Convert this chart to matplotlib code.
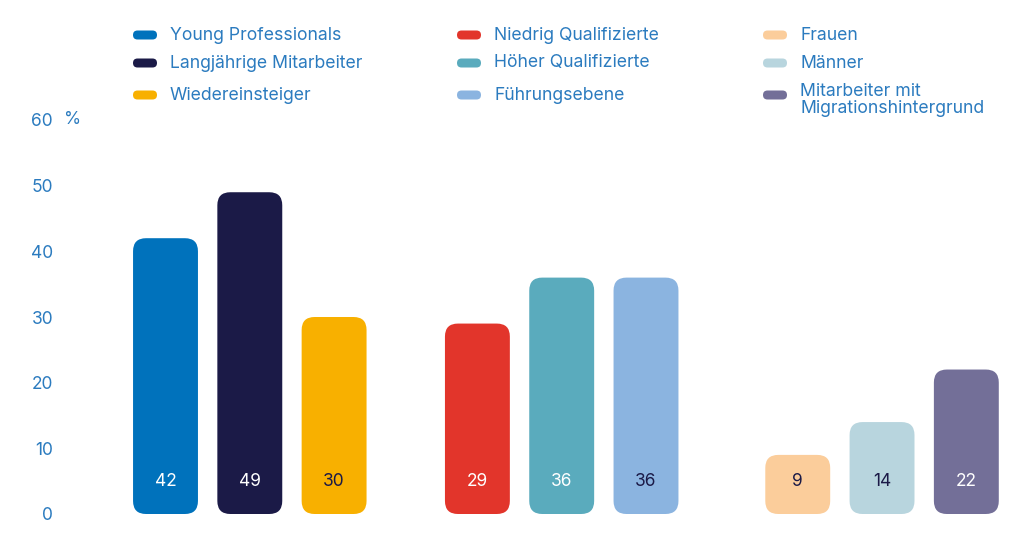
import matplotlib
matplotlib.use("Agg")
import matplotlib.pyplot as plt
from matplotlib.patches import FancyBboxPatch

plt.rcParams['font.family'] = ['Inter', 'DejaVu Sans']

# data
categories = ['Young Professionals', 'Langjährige Mitarbeiter', 'Wiedereinsteiger',
              'Niedrig Qualifizierte', 'Höher Qualifizierte', 'Führungsebene',
              'Frauen', 'Männer', 'Mitarbeiter mit\nMigrationshintergrund']
values = [42, 49, 30, 29, 36, 36, 9, 14, 22]
groups = [0, 0, 0, 1, 1, 1, 2, 2, 2]
colors = ['#0072bc', '#1b1a47', '#f8b000',
          '#e2352b', '#5aabbd', '#8bb4e0',
          '#fbcd9b', '#b8d5de', '#736f98']
label_colors = ['white', 'white', '#1b1a47',
                'white', 'white', '#1b1a47',
                '#1b1a47', '#1b1a47', 'white']
yticks = [0, 10, 20, 30, 40, 50, 60]

text_blue = '#2b7bbf'
group_start = [0, 3.7, 7.5]
xpos = [group_start[g] + (i % 3) for i, g in enumerate(groups)]

W, H = 1024, 539
fig = plt.figure(figsize=(W / 100, H / 100), dpi=100)
ax = fig.add_axes([60 / W, 25 / H, 964 / W, 394 / H])
ax.set_xlim(-1.2515, 10.184)
ax.set_ylim(0, 60)

bars = ax.bar(xpos, values, width=0.77, color=colors)
# swap the plain bars for rounded ones
asp = (13 / 6.567) / (13 / 84.25)
for b, c in zip(bars, colors):
    p = FancyBboxPatch((b.get_x(), b.get_y()), b.get_width(), b.get_height(),
                       boxstyle="round,pad=0,rounding_size=0.154",
                       mutation_aspect=asp, fc=c, ec='none')
    ax.add_patch(p)
    b.set_visible(False)

for x, v, lc in zip(xpos, values, label_colors):
    ax.text(x, 4.9, str(v), ha='center', va='center', color=lc, fontsize=12.5)

ax.set_yticks(yticks)
ax.set_yticklabels([str(t) for t in yticks])
ax.tick_params(axis='y', length=0, pad=5, labelsize=12.5, labelcolor=text_blue)
ax.set_xticks([])
for s in ax.spines.values():
    s.set_visible(False)
ax.text(0.004, 60, '%', transform=ax.get_yaxis_transform(), ha='left', va='center',
        color=text_blue, fontsize=12.5)

# legend, three columns
col_x = [133, 457, 763]
row_y = [35, 63, 95]
for i, (name, c) in enumerate(zip(categories, colors)):
    cx = col_x[i // 3]
    cy = row_y[i % 3]
    mk = FancyBboxPatch((cx / W, 1 - (cy + 4.5) / H), 24 / W, 9 / H,
                        boxstyle="round,pad=0,rounding_size=%f" % (4.5 / W),
                        mutation_aspect=W / H, transform=fig.transFigure,
                        fc=c, ec='none')
    fig.patches.append(mk)
    ty = cy + 5 if '\n' in name else cy
    fig.text((cx + 37) / W, 1 - ty / H, name, ha='left', va='center',
             color=text_blue, fontsize=12.7, linespacing=1.05)

fig.savefig('out.png', dpi=100)
